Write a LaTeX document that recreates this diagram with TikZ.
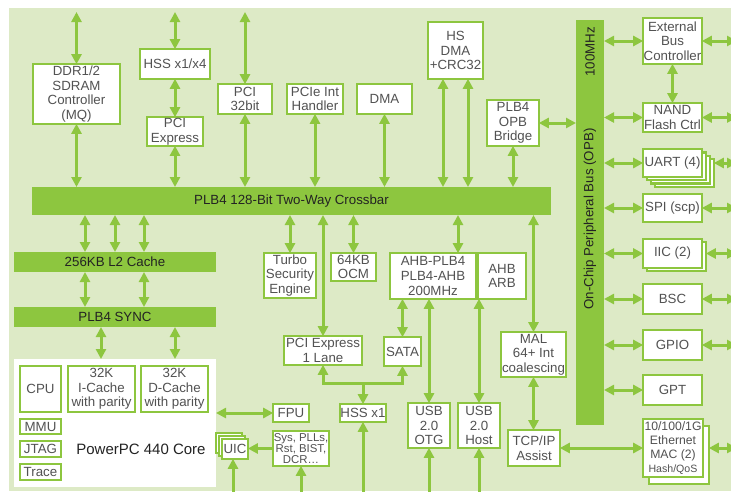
\documentclass[tikz,border=0pt]{standalone}
\usepackage{fontspec}
\setmainfont{Liberation Sans}
\usetikzlibrary{arrows.meta,shadows}
\definecolor{bgc}{RGB}{221,234,198}
\definecolor{grn}{RGB}{141,198,63}
\definecolor{txt}{RGB}{82,82,82}
\definecolor{dtxt}{RGB}{35,35,35}
\pgfdeclarelayer{bottom}
\pgfdeclarelayer{arrowlayer}
\pgfsetlayers{bottom,arrowlayer,main}
\tikzset{
  box/.style={draw=grn,line width=2.4pt,fill=white,text=txt,align=center,inner sep=0pt,outer sep=0pt,
    font=\fontsize{13.3}{14.7}\selectfont,
    drop shadow={shadow xshift=1.2pt,shadow yshift=-1.2pt,opacity=.3,fill=black}},
  ibox/.style={draw=grn,line width=2pt,fill=white,text=txt,align=center,inner sep=0pt,outer sep=0pt,
    font=\fontsize{13.3}{14.7}\selectfont},
  bar/.style={fill=grn,text=dtxt,inner sep=0pt,outer sep=0pt,font=\fontsize{13.3}{14.7}\selectfont},
  corebox/.style={fill=white,inner sep=0pt,outer sep=0pt},
  bartxt/.style={text=dtxt,inner sep=0pt,font=\fontsize{13.3}{14.7}\selectfont},
  dbl/.style={draw=grn,line width=3pt,{Triangle[length=10pt,width=10pt]}-{Triangle[length=10pt,width=10pt]}},
  sgl/.style={draw=grn,line width=3pt,-{Triangle[length=10pt,width=10pt]}},
}
\newcommand\bx[6][box]{\node[#1,minimum width={(#4-#2-2.4)*1pt},minimum height={(#5-#3-2.4)*1pt}] (#6) at ({(#2+#4)/2},{(#3+#5)/2})}
\newcommand\br[6][bar]{\node[#1,minimum width={(#4-#2)*1pt},minimum height={(#5-#3)*1pt}] (#6) at ({(#2+#4)/2},{(#3+#5)/2})}
\begin{document}
\begin{tikzpicture}[x=1pt,y=-1pt]
\useasboundingbox (0,0) rectangle (731,491);
\begin{pgfonlayer}{bottom}
\fill[white] (0,0) rectangle (731,491);
\fill[bgc] (9,8) rectangle (731,491);
\end{pgfonlayer}

% helper coordinates
\coordinate (topY) at (0,12);
\coordinate (botY) at (0,503);
\coordinate (rightX) at (737,0);
\coordinate (c85) at (85,0);
\coordinate (c144) at (144,0);
\coordinate (c101) at (101,0);
\coordinate (c175) at (175,0);
\coordinate (c443) at (443,0);
\coordinate (c468) at (468,0);
\coordinate (c458) at (458,0);
\coordinate (c233) at (233,0);
\coordinate (jn) at (363,383);

% bars
\br{32}{187}{551}{215}{xbar} {PLB4 128-Bit Two-Way Crossbar};
\br{576}{20}{604}{425}{opb} {};
\node[bartxt,rotate=90] (opbt) at (590,219) {On-Chip Peripheral Bus (OPB)};
\node[bartxt,rotate=90] (opbm) at (590,52) {100MHz};
\br{14}{252}{216}{272}{l2} {256KB L2 Cache};
\br{14}{307}{216}{327}{sync} {PLB4 SYNC};

% core
\br[corebox]{14}{359}{216}{487}{core} {};
\bx[ibox]{19}{365}{62}{413}{cpu} {CPU};
\bx[ibox]{67}{365}{136}{413}{icache} {32K\\I-Cache\\with parity};
\bx[ibox]{140}{365}{209}{413}{dcache} {32K\\D-Cache\\with parity};
\bx[ibox]{19}{418}{62}{435}{mmu} {MMU};
\bx[ibox]{19}{440}{62}{458}{jtag} {JTAG};
\bx[ibox]{19}{463}{62}{481}{trace} {Trace};
\node[text=dtxt,inner sep=0pt,font=\fontsize{15}{17}\selectfont] (coretxt) at (141,449) {PowerPC 440 Core};

% top row
\bx{32}{63}{121}{125}{ddr} {DDR1/2\\SDRAM\\Controller\\(MQ)};
\bx{139}{48}{211}{80}{hss4} {HSS x1/x4};
\bx{146}{116}{204}{147}{pcix} {PCI\\Express};
\bx{217}{83}{273}{115}{pci32} {PCI\\32bit};
\bx{286}{83}{344}{115}{pcieint} {PCIe Int\\Handler};
\bx{356}{83}{413}{115}{dma} {DMA};
\bx{427}{21}{484}{80}{hsdma} {HS\\DMA\\+CRC32};
\bx{486}{99}{540}{147}{bridge} {PLB4\\OPB\\Bridge};

% right column
\bx{642}{17}{703}{65}{ext} {External\\Bus\\Controller};
\bx{642}{102}{703}{133}{nand} {NAND\\Flash Ctrl};
\bx{654}{158}{715}{188}{uart3} {};
\bx{650}{154.7}{711}{184.7}{uart2} {};
\bx{646}{151.3}{707}{181.3}{uart1} {};
\bx{642}{148}{703}{178}{uart} {UART (4)};
\bx{642}{193}{703}{223}{spi} {SPI (scp)};
\bx{646}{241}{707}{272}{iic2} {};
\bx{642}{238}{703}{269}{iic} {IIC (2)};
\bx{642}{283}{703}{315}{bsc} {BSC};
\bx{642}{329}{703}{361}{gpio} {GPIO};
\bx{642}{374}{703}{406}{gpt} {GPT};
\bx{648}{425}{710}{485}{eth2} {};
\bx[box,font=\fontsize{12.2}{13.9}\selectfont]{642}{418}{704}{478}{eth} {10/100/1G\\Ethernet\\MAC (2)\\{\fontsize{10.6}{12}\selectfont Hash/QoS}};

% middle
\bx{263}{252}{317}{299}{turbo} {Turbo\\Security\\Engine};
\bx{330}{252}{377}{282}{ocm} {64KB\\OCM};
\bx{389}{252}{477}{300}{ahb} {AHB-PLB4\\PLB4-AHB\\200MHz};
\bx{477}{252}{527}{300}{arb} {AHB\\ARB};
\bx{283}{335}{363}{366}{pcie1} {PCI Express\\1 Lane};
\bx{383}{336}{422}{367}{sata} {SATA};
\bx{500}{331}{567}{378}{mal} {MAL\\64+ Int\\coalescing};
\bx{339}{403}{387}{423}{hss1} {HSS x1};
\bx{407}{402}{451}{449}{otg} {USB\\2.0\\OTG};
\bx{457}{402}{501}{449}{host} {USB\\2.0\\Host};
\bx{507}{429}{561}{467}{tcp} {TCP/IP\\Assist};
\bx{272}{403}{310}{423}{fpu} {FPU};
\bx[box,font=\fontsize{11.4}{10.6}\selectfont]{272}{430}{330}{467}{sys} {Sys, PLLs,\\Rst, BIST,\\DCR…};
\bx{215}{432}{243}{454}{uic2} {};
\bx{218}{435}{246}{457}{uic1} {};
\bx{221}{438}{249}{460}{uic} {UIC};

% arrows
\begin{pgfonlayer}{arrowlayer}
\draw[dbl] (ddr.north |- topY) -- (ddr.north);
\draw[dbl] (hss4.north |- topY) -- (hss4.north);
\draw[dbl] (pci32.north |- topY) -- (pci32.north);
\draw[dbl] (ddr.south) -- (ddr.south |- xbar.north);
\draw[dbl] (hss4.south) -- (pcix.north);
\draw[dbl] (pcix.south) -- (pcix.south |- xbar.north);
\draw[dbl] (pci32.south) -- (pci32.south |- xbar.north);
\draw[dbl] (pcieint.south) -- (pcieint.south |- xbar.north);
\draw[dbl] (dma.south) -- (dma.south |- xbar.north);
\draw[dbl] (c443 |- hsdma.south) -- (c443 |- xbar.north);
\draw[dbl] (c468 |- hsdma.south) -- (c468 |- xbar.north);
\draw[dbl] (bridge.south) -- (bridge.south |- xbar.north);
\draw[dbl] (bridge.east) -- (bridge.east -| opb.west);
% OPB peripherals
\foreach \n in {ext,nand,uart,spi,iic,bsc,gpio,gpt}
  \draw[dbl] (\n.west -| opb.east) -- (\n.west);
\draw[dbl] (ext.east) -- (ext.east -| rightX);
\draw[dbl] (nand.east) -- (nand.east -| rightX);
\draw[dbl] (uart.east -| uart3.east) -- (uart.east -| rightX);
\draw[dbl] (spi.east) -- (spi.east -| rightX);
\draw[dbl] (iic.east -| iic2.east) -- (iic.east -| rightX);
\draw[dbl] (bsc.east) -- (bsc.east -| rightX);
\draw[dbl] (gpio.east) -- (gpio.east -| rightX);
\draw[dbl] (eth.east -| eth2.east) -- (eth.east -| rightX);
\draw[dbl] (ext.south) -- (nand.north);
% below crossbar
\draw[dbl] (c85 |- xbar.south) -- (c85 |- l2.north);
\draw[dbl] (l2.north |- xbar.south) -- (l2.north);
\draw[dbl] (c144 |- xbar.south) -- (c144 |- l2.north);
\draw[dbl] (c85 |- l2.south) -- (c85 |- sync.north);
\draw[dbl] (c144 |- l2.south) -- (c144 |- sync.north);
\draw[dbl] (c101 |- sync.south) -- (c101 |- core.north);
\draw[dbl] (c175 |- sync.south) -- (c175 |- core.north);
\draw[dbl] (turbo.north |- xbar.south) -- (turbo.north);
\draw[dbl] (pcie1.north |- xbar.south) -- (pcie1.north);
\draw[dbl] (ocm.north |- xbar.south) -- (ocm.north);
\draw[dbl] (c458 |- xbar.south) -- (c458 |- ahb.north);
\draw[dbl] (mal.north |- xbar.south) -- (mal.north);
\draw[dbl] (sata.north |- ahb.south) -- (sata.north);
\draw[dbl] (otg.north |- ahb.south) -- (otg.north);
\draw[dbl] (host.north |- ahb.south) -- (host.north);
\draw[dbl,line join=miter] (pcie1.south) -- (pcie1.south |- jn) -- (sata.south |- jn) -- (sata.south);
\draw[sgl] (jn) -- (hss1.north);
\draw[dbl] (hss1.south) -- (hss1.south |- botY);
\draw[dbl] (otg.south) -- (otg.south |- botY);
\draw[dbl] (host.south) -- (host.south |- botY);
\draw[sgl] (sys.south |- botY) -- (sys.south);
\draw[sgl] (c233 |- botY) -- (c233 |- uic.south);
\draw[sgl] (sys.west) -- (sys.west -| uic.east);
\draw[dbl] (core.east |- fpu.west) -- (fpu.west);
\draw[dbl] (mal.south) -- (mal.south |- tcp.north);
\draw[dbl] (tcp.east) -- (tcp.east -| eth.west);
\end{pgfonlayer}
\end{tikzpicture}
\end{document}
